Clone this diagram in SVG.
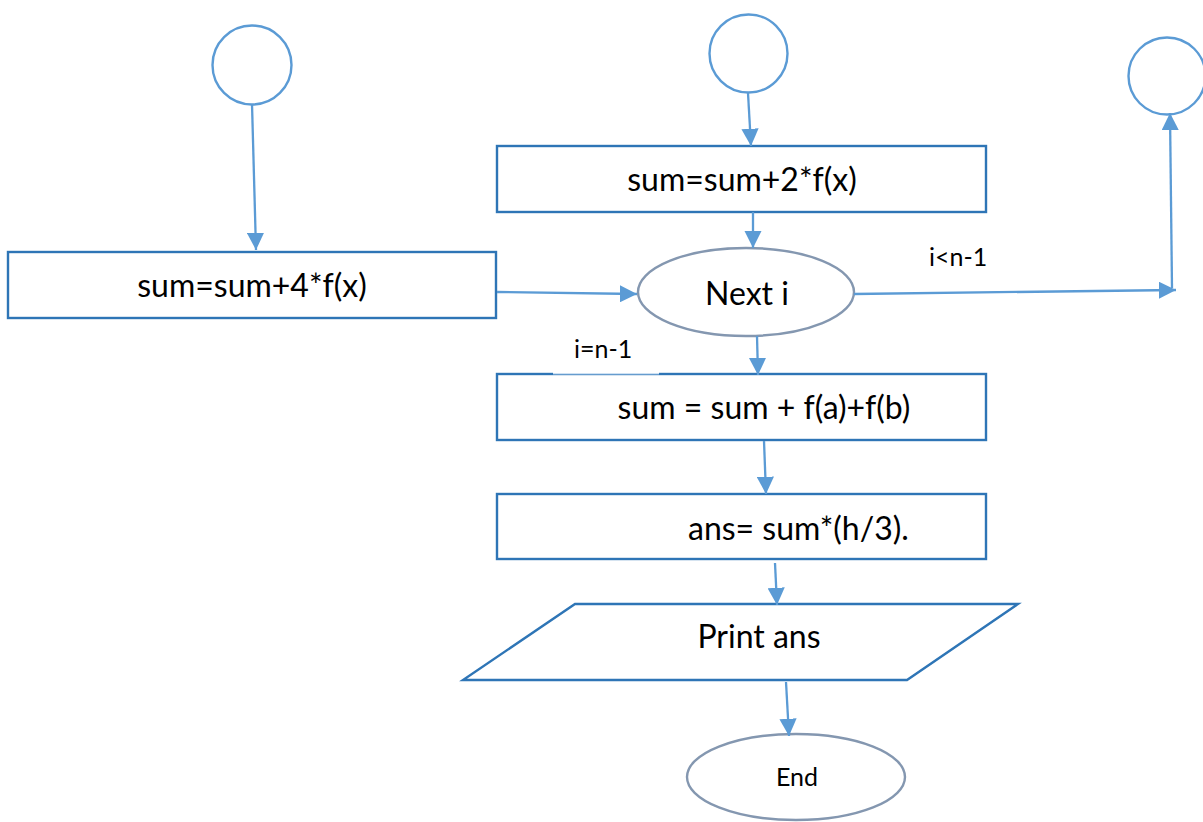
<svg xmlns="http://www.w3.org/2000/svg" width="1203" height="822" viewBox="0 0 1203 822">
  <defs>
    <marker id="arrow" viewBox="0 0 10 10" refX="10" refY="5" markerWidth="7.5" markerHeight="7.5" orient="auto" markerUnits="strokeWidth">
      <path d="M0,0 L10,5 L0,10 z" fill="#5B9BD5"/>
    </marker>
    <style>
      .box { fill: #ffffff; stroke: #2E75B6; stroke-width: 2.4; }
      .oval { fill: #ffffff; stroke: #8497B0; stroke-width: 2.4; }
      .conn-node { fill: #ffffff; stroke: #5B9BD5; stroke-width: 2.4; }
      .edge { fill: none; stroke: #5B9BD5; stroke-width: 2.3; marker-end: url(#arrow); }
      .t { font-family: Lato, "Liberation Sans", sans-serif; font-size: 32px; fill: #000000; }
      .small { font-family: Lato, "Liberation Sans", sans-serif; font-size: 25px; fill: #000000; }
    </style>
  </defs>
  <rect width="1203" height="822" fill="#ffffff"/>

  <g id="connector-left"><circle class="conn-node" cx="252" cy="65" r="39.5"/></g>
  <g id="connector-top"><circle class="conn-node" cx="748.5" cy="53.5" r="39"/></g>
  <g id="connector-right"><circle class="conn-node" cx="1167" cy="76" r="38.5"/></g>

  <g id="add-2fx">
    <rect class="box" x="497" y="146" width="489" height="66"/>
    <text class="t" x="742" y="191" text-anchor="middle">sum=sum+2*f(x)</text>
  </g>
  <g id="add-4fx">
    <rect class="box" x="8" y="252" width="488" height="66"/>
    <text class="t" x="252" y="297" text-anchor="middle">sum=sum+4*f(x)</text>
  </g>
  <g id="next-i">
    <ellipse class="oval" cx="746" cy="292" rx="108" ry="44"/>
    <text class="t" x="747" y="305" text-anchor="middle">Next i</text>
  </g>
  <g id="add-ends">
    <rect class="box" x="497" y="374" width="489" height="66"/>
    <text class="t" x="764" y="419" text-anchor="middle">sum = sum + f(a)+f(b)</text>
  </g>
  <g id="answer">
    <rect class="box" x="497" y="494" width="489" height="65"/>
    <text class="t" x="688" y="540">ans= sum*(h/3).</text>
  </g>
  <g id="print">
    <polygon class="box" points="575,604 1018,604 907,680 463,680"/>
    <text class="t" x="759" y="648" text-anchor="middle">Print ans</text>
  </g>
  <g id="end">
    <ellipse class="oval" cx="796" cy="777" rx="109" ry="43"/>
    <text class="small" x="797" y="786" text-anchor="middle">End</text>
  </g>

  <g id="connectors">
    <line class="edge" x1="252" y1="104" x2="256" y2="250"/>
    <line class="edge" x1="748" y1="93" x2="751" y2="146"/>
    <line class="edge" x1="753" y1="212" x2="753" y2="248"/>
    <line class="edge" x1="497" y1="292" x2="637" y2="294"/>
    <line class="edge" x1="854" y1="294" x2="1176" y2="290"/>
    <line class="edge" x1="1172" y1="288" x2="1170" y2="113"/>
    <line class="edge" x1="757" y1="336" x2="758" y2="375"/>
    <line class="edge" x1="764" y1="441" x2="766" y2="494"/>
    <line class="edge" x1="775" y1="563" x2="777" y2="605"/>
    <line class="edge" x1="786" y1="682" x2="789" y2="736"/>
  </g>

  <g id="label-loop">
    <text class="small" x="929" y="266">i&lt;n-1</text>
  </g>
  <g id="label-exit">
    <rect x="553" y="334" width="106" height="40" fill="#ffffff"/>
    <line x1="553" y1="374" x2="659" y2="374" stroke="#9DC3E6" stroke-width="1"/>
    <text class="small" x="574" y="358">i=n-1</text>
  </g>
</svg>
